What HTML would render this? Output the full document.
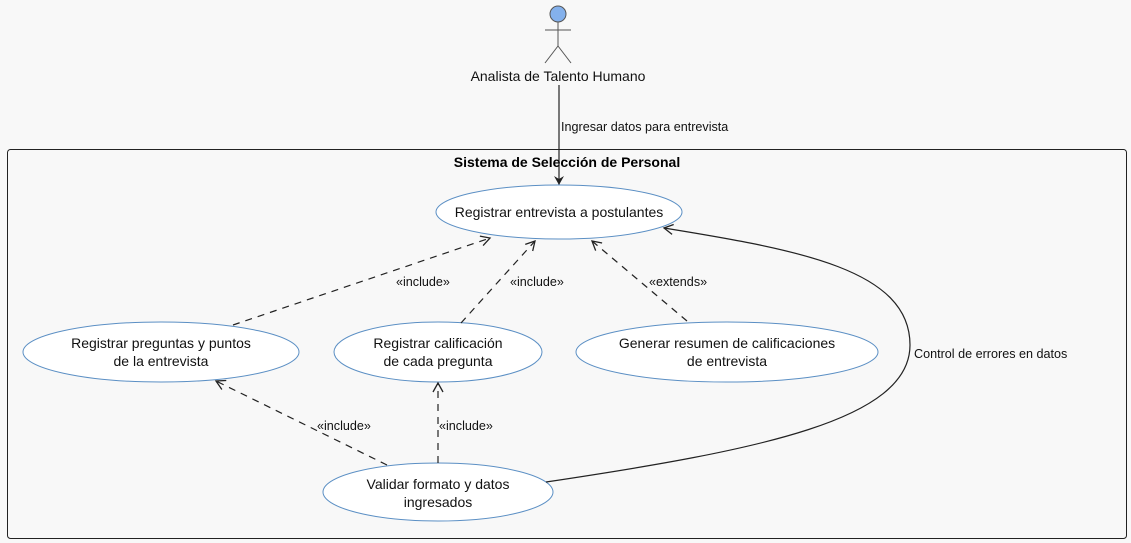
<!DOCTYPE html>
<html><head><meta charset="utf-8"><style>
html,body{margin:0;padding:0;background:#f8f8f8;}
svg{display:block;font-family:"Liberation Sans",sans-serif;}
</style></head><body>
<svg width="1131" height="543" viewBox="0 0 1131 543" xmlns="http://www.w3.org/2000/svg">
<defs>
<marker id="a" markerWidth="12" markerHeight="12" refX="10" refY="6" orient="auto" markerUnits="userSpaceOnUse">
<path d="M1,1 L10,6 L1,11 L4,6 Z" fill="#222"/>
</marker>
<marker id="o" markerWidth="12" markerHeight="12" refX="10" refY="6" orient="auto" markerUnits="userSpaceOnUse">
<path d="M1,1 L10,6 L1,11" fill="none" stroke="#222" stroke-width="1.3"/>
</marker>
</defs>
<rect x="0" y="0" width="1131" height="543" fill="#f8f8f8"/>
<rect x="7.5" y="149.5" width="1119" height="389" rx="3" fill="#f8f8f8" stroke="#222" stroke-width="1"/>
<text x="567" y="167" text-anchor="middle" font-size="14" font-weight="bold" fill="#000">Sistema de Selección de Personal</text>

<circle cx="558" cy="14" r="8" fill="#84b1ec" stroke="#555" stroke-width="1"/>
<line x1="558" y1="22" x2="558" y2="46" stroke="#555"/>
<line x1="545" y1="30" x2="571" y2="30" stroke="#555"/>
<line x1="558" y1="46" x2="545" y2="63" stroke="#555"/>
<line x1="558" y1="46" x2="571" y2="63" stroke="#555"/>
<text x="558" y="81" text-anchor="middle" font-size="14" fill="#111">Analista de Talento Humano</text>

<line x1="559" y1="85" x2="559" y2="185" stroke="#222" stroke-width="1.2" marker-end="url(#a)"/>
<text x="561" y="131" font-size="12.6" fill="#111">Ingresar datos para entrevista</text>

<g fill="#fff" stroke="#5b8fc4" stroke-width="1">
<ellipse cx="559" cy="212" rx="123" ry="27"/>
<ellipse cx="161" cy="352" rx="138" ry="30"/>
<ellipse cx="438" cy="352" rx="104" ry="30"/>
<ellipse cx="727" cy="352" rx="151" ry="30"/>
<ellipse cx="438" cy="492" rx="115" ry="29"/>
</g>
<g font-size="14" fill="#111" text-anchor="middle">
<text x="559" y="217">Registrar entrevista a postulantes</text>
<text x="161" y="348">Registrar preguntas y puntos</text>
<text x="161" y="366">de la entrevista</text>
<text x="438" y="348">Registrar calificación</text>
<text x="438" y="366">de cada pregunta</text>
<text x="727" y="348">Generar resumen de calificaciones</text>
<text x="727" y="366">de entrevista</text>
<text x="438" y="489">Validar formato y datos</text>
<text x="438" y="507">ingresados</text>
</g>

<g stroke="#222" stroke-width="1.2" stroke-dasharray="7,6" fill="none">
<line x1="233" y1="325" x2="490" y2="238" marker-end="url(#o)"/>
<line x1="461" y1="323" x2="535" y2="241" marker-end="url(#o)"/>
<line x1="687" y1="321" x2="592" y2="241" marker-end="url(#o)"/>
<line x1="387" y1="465" x2="216" y2="381" marker-end="url(#o)"/>
<line x1="438" y1="463" x2="438" y2="383" marker-end="url(#o)"/>
</g>
<g font-size="12.6" fill="#111">
<text x="396" y="286">«include»</text>
<text x="510" y="286">«include»</text>
<text x="649" y="286">«extends»</text>
<text x="317" y="430">«include»</text>
<text x="439" y="430">«include»</text>
</g>

<path d="M546,482 C760,450 910,420 910,345 C910,270 800,250 664,228" fill="none" stroke="#222" stroke-width="1.2" marker-end="url(#o)"/>
<text x="914" y="358" font-size="12.6" fill="#111">Control de errores en datos</text>
</svg>
</body></html>
